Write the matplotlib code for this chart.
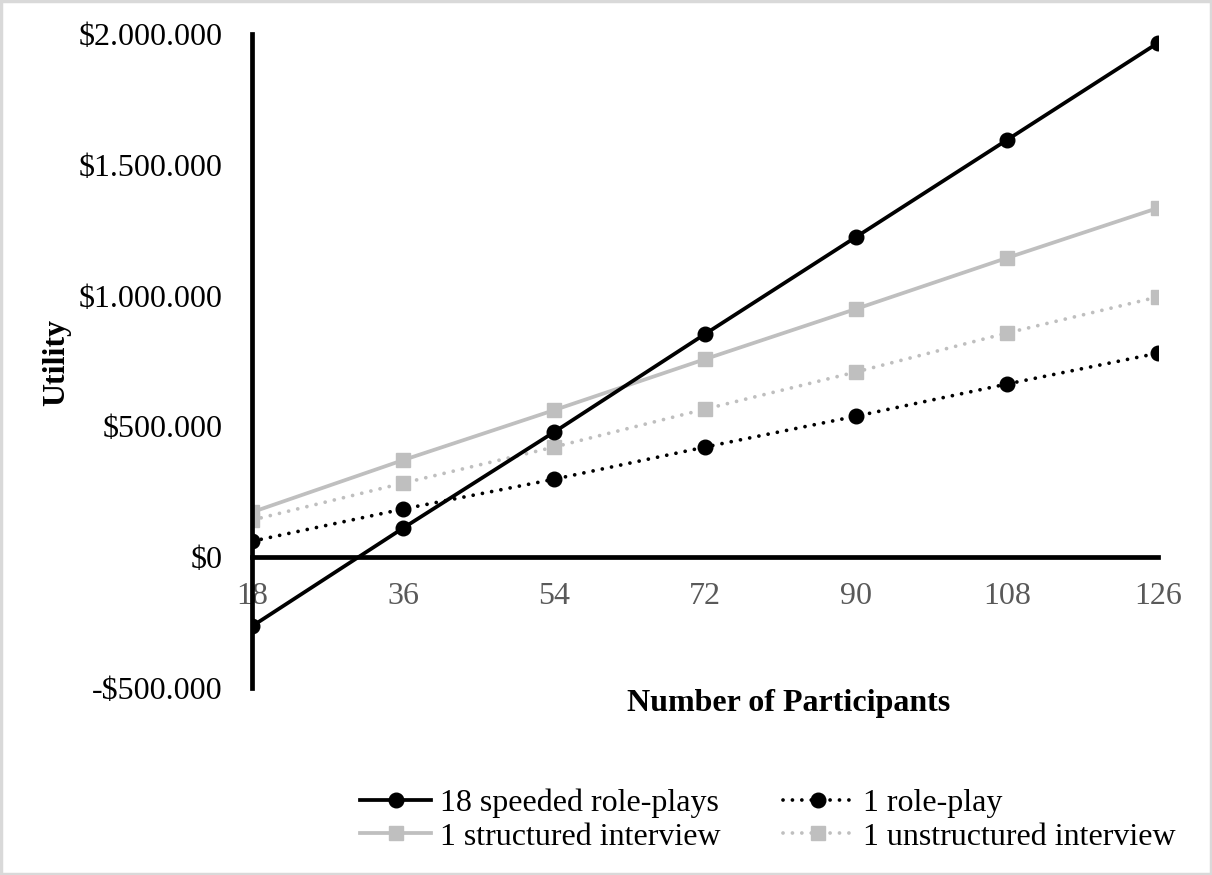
import matplotlib
matplotlib.use('Agg')
import matplotlib.pyplot as plt
import matplotlib.patches as patches
from matplotlib.ticker import FuncFormatter

# === 数据 ===
participants = [18, 36, 54, 72, 90, 108, 126]
speeded_roleplays = [-264000, 111000, 478000, 853000, 1224000, 1595000, 1966000]
one_roleplay = [61000, 184000, 298000, 421000, 539000, 662000, 780000]
structured_interview = [172000, 371000, 562000, 757000, 949000, 1144000, 1335000]
unstructured_interview = [142000, 283000, 421000, 566000, 708000, 857000, 995000]

y_ticks = [-500000, 0, 500000, 1000000, 1500000, 2000000]

plt.rcParams['font.family'] = ['Liberation Serif', 'DejaVu Serif']
FS = 23

fig = plt.figure(figsize=(12.12, 8.75), dpi=100)
ax = fig.add_axes([252 / 1212, 1 - 688 / 875, (1158 - 252) / 1212, (688 - 34) / 875])

GRAY = '#bfbfbf'
DOT = (0, (0.01, 2.5))
ax.plot(participants, speeded_roleplays, '-', color='black', lw=2.7,
        marker='o', markersize=10.5, label='18 speeded role-plays', zorder=5)
ax.plot(participants, one_roleplay, linestyle=DOT, color='black', lw=2.7,
        dash_capstyle='round', marker='o', markersize=10.5, label='1 role-play', zorder=4)
ax.plot(participants, structured_interview, '-', color=GRAY, lw=2.7,
        marker='s', markersize=10, label='1 structured interview', zorder=3)
ax.plot(participants, unstructured_interview, linestyle=DOT, color=GRAY, lw=2.7,
        dash_capstyle='round', marker='s', markersize=10,
        label='1 unstructured interview', zorder=3)

ax.set_xlim(18, 126)
ax.set_ylim(-500000, 2000000)
ax.set_xticks(participants)
ax.set_yticks(y_ticks)


def money(v, pos):
    s = f"{abs(int(v)):,}".replace(',', '.')
    return ('-$' if v < 0 else '$') + s


ax.yaxis.set_major_formatter(FuncFormatter(money))

# 坐标轴样式（Excel 风格）
for side in ['top', 'right']:
    ax.spines[side].set_visible(False)
ax.spines['bottom'].set_position(('data', 0))
ax.spines['left'].set_linewidth(3.4)
ax.spines['bottom'].set_linewidth(3.4)
ax.spines['left'].set_zorder(6)
ax.tick_params(axis='x', length=0, pad=18, labelsize=FS, labelcolor='#595959')
ax.tick_params(axis='y', length=0, pad=21, labelsize=FS, labelcolor='black')

fig.text(789 / 1212, 1 - 703 / 875, 'Number of Participants', fontsize=FS,
         fontweight='bold', ha='center', va='center')
fig.text(57 / 1212, 1 - 362 / 875, 'Utility', fontsize=FS, fontweight='bold',
         rotation=90, ha='center', va='center')

handles, labels = ax.get_legend_handles_labels()
order = [0, 2, 1, 3]
fig.legend([handles[i] for i in order], [labels[i] for i in order],
           loc='center', bbox_to_anchor=(768 / 1212, 1 - 820 / 875), ncol=2,
           frameon=False, fontsize=FS, handlelength=2.2, handletextpad=0.3,
           columnspacing=1.95, labelspacing=0.13)

# 外框
fig.patches.append(patches.Rectangle((0.001, 0.001), 0.998, 0.998, transform=fig.transFigure,
                                     fill=False, edgecolor='#d9d9d9', linewidth=2.5))

fig.savefig('out.png', dpi=100, facecolor='white')
